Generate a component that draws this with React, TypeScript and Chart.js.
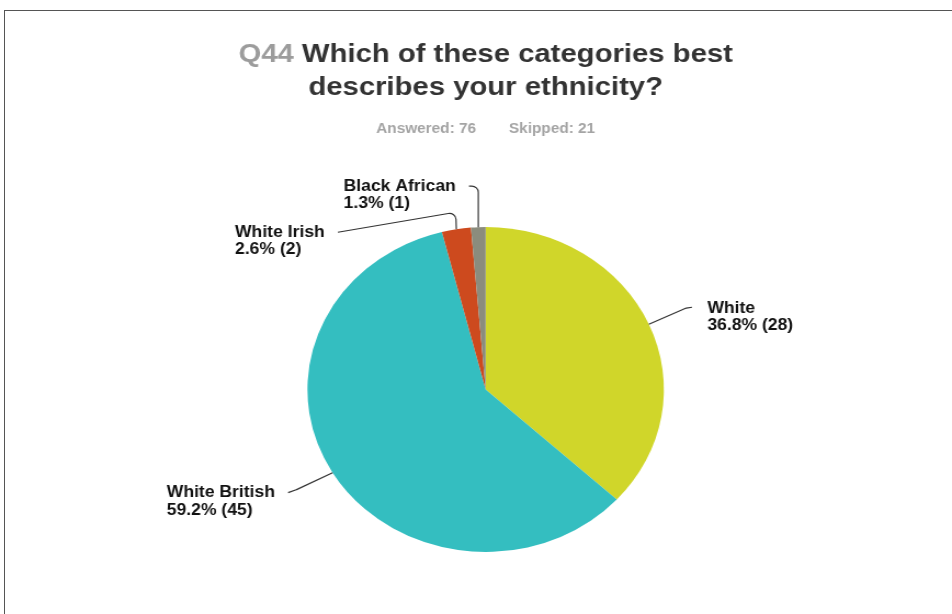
import React, { useEffect, useRef } from "react";
import { Chart, registerables } from "chart.js";

Chart.register(...registerables);

const questionNo = "Q44";
const titleLine1 = "Which of these categories best";
const titleLine2 = "describes your ethnicity?";
const answered = 76;
const skipped = 21;

const categories = ["White", "White British", "White Irish", "Black African"];
const counts = [28, 45, 2, 1];
const sliceColors = ["#D0D62A", "#34BEC0", "#CD4A1E", "#8B8C7D"];

// leader line geometry relative to each slice's outer midpoint (elbow, end), label side
const leaderLayout = [
  { elbow: [33.5, -16], end: [39.3, -17], side: "right", r: 4 },
  { elbow: [-33, 17], end: [-40.5, 20], side: "left", r: 4 },
  { elbow: [-0.5, -17], end: [-108, 3], side: "left", r: 6 },
  { elbow: [0, -41], end: [-8.5, -41], side: "left", r: 6 },
];

const FONT = '"Liberation Sans", Arial, Helvetica, sans-serif';
const STRETCH = 952 / 868;

const sliceLabelPlugin = {
  id: "sliceLabels",
  afterDatasetsDraw(chart: any) {
    const ctx = chart.ctx;
    const meta = chart.getDatasetMeta(0);
    const total = counts.reduce((a, b) => a + b, 0);
    meta.data.forEach((arc: any, i: number) => {
      const p = arc.getProps(["x", "y", "startAngle", "endAngle", "outerRadius"], true);
      const mid = (p.startAngle + p.endAngle) / 2;
      const ax = p.x + Math.cos(mid) * p.outerRadius;
      const ay = p.y + Math.sin(mid) * p.outerRadius;
      const lay = leaderLayout[i];
      const ex = ax + lay.elbow[0];
      const ey = ay + lay.elbow[1];
      const tx = ax + lay.end[0];
      const ty = ay + lay.end[1];
      ctx.save();
      ctx.strokeStyle = "#333";
      ctx.lineWidth = 1.2;
      ctx.beginPath();
      ctx.moveTo(ax, ay);
      ctx.arcTo(ex, ey, tx, ty, lay.r);
      ctx.lineTo(tx, ty);
      ctx.stroke();

      const l1 = categories[i];
      const l2 = ((counts[i] / total) * 100).toFixed(1) + "% (" + counts[i] + ")";
      ctx.font = "bold 16px " + FONT;
      ctx.fillStyle = "#111";
      ctx.textBaseline = "middle";
      ctx.textAlign = "left";
      const w = Math.max(ctx.measureText(l1).width, ctx.measureText(l2).width);
      const gap = 12;
      const left = lay.side === "right" ? tx + gap + 2 : tx - gap - w;
      const y1 = ty + (lay.side === "right" ? 1 : 0);
      ctx.fillText(l1, left, y1);
      ctx.fillText(l2, left, y1 + 17.5);
      ctx.restore();
    });
  },
};

const titlePlugin = {
  id: "customTitle",
  afterDraw(chart: any) {
    const ctx = chart.ctx;
    const meta = chart.getDatasetMeta(0);
    const cx = meta.data.length ? meta.data[0].x : chart.width / 2;
    ctx.save();
    ctx.textBaseline = "middle";
    ctx.textAlign = "left";
    ctx.font = "bold 26.7px " + FONT;
    const q = questionNo + " ";
    const wq = ctx.measureText(q).width;
    const w1 = ctx.measureText(titleLine1).width;
    let x = cx - (wq + w1) / 2;
    ctx.fillStyle = "#9C9C9C";
    ctx.fillText(q, x, 55);
    ctx.fillStyle = "#333333";
    ctx.fillText(titleLine1, x + wq, 55);
    const w2 = ctx.measureText(titleLine2).width;
    ctx.fillText(titleLine2, cx - w2 / 2, 88);

    ctx.font = "bold 14px " + FONT;
    ctx.fillStyle = "#A4A4A4";
    const s1 = "Answered: " + answered;
    const s2 = "Skipped: " + skipped;
    const a = ctx.measureText(s1).width;
    const b = ctx.measureText(s2).width;
    const g = 30;
    x = cx - (a + g + b) / 2;
    ctx.fillText(s1, x, 129);
    ctx.fillText(s2, x + a + g, 129);
    ctx.restore();
  },
};

export default function App() {
  const ref = useRef<HTMLCanvasElement | null>(null);
  useEffect(() => {
    document.body.style.margin = "0";
    const canvas = ref.current!;
    const chart = new Chart(canvas, {
      type: "pie",
      data: {
        labels: categories,
        datasets: [
          {
            data: counts,
            backgroundColor: sliceColors,
            borderWidth: 0,
          },
        ],
      },
      options: {
        responsive: false,
        animation: false,
        layout: { padding: { top: 227, bottom: 62, left: 280, right: 262.4 } },
        plugins: {
          legend: { display: false },
          tooltip: { enabled: false },
          title: { display: false },
        },
      },
      plugins: [sliceLabelPlugin, titlePlugin],
    });
    return () => chart.destroy();
  }, []);

  return (
    <div
      style={{
        position: "fixed",
        left: 0,
        top: 0,
        width: 952,
        height: 614,
        overflow: "hidden",
        background: "#fff",
      }}
    >
      <div
        style={{
          position: "absolute",
          left: 0,
          top: 0,
          width: 868,
          height: 614,
          transform: `scaleX(${STRETCH})`,
          transformOrigin: "0 0",
        }}
      >
        <canvas ref={ref} width={868} height={614} />
      </div>
      <div
        style={{
          position: "absolute",
          left: 4,
          top: 10,
          width: 1000,
          height: 700,
          borderLeft: "1px solid #555",
          borderTop: "1px solid #555",
          pointerEvents: "none",
        }}
      />
    </div>
  );
}
